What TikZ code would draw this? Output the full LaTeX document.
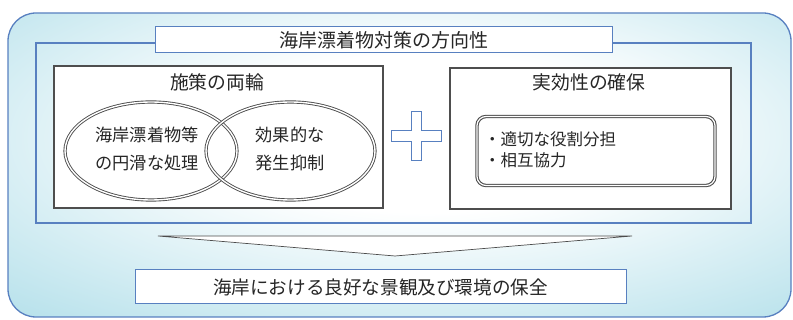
\documentclass[tikz,border=0pt]{standalone}
\usepackage{fontspec}
\setmainfont{Noto Sans CJK JP}
\usetikzlibrary{shapes.geometric}
\definecolor{bgcyan}{RGB}{168,219,231}
\definecolor{frameblue}{RGB}{88,128,192}
\definecolor{boxgray}{RGB}{78,78,78}
\pgfdeclareradialshading{bgshade}{\pgfpoint{2bp}{6bp}}{color(0bp)=(white); color(13bp)=(white); color(44bp)=(bgcyan); color(100bp)=(bgcyan)}
\tikzset{
  outerbox/.style={draw=frameblue, line width=1.3pt, rounded corners=28pt, shading=bgshade, inner sep=0pt},
  framebox/.style={draw=frameblue, line width=1.2pt, inner sep=0pt},
  bluebox/.style={draw=frameblue, line width=1pt, fill=white, inner sep=0pt, font=\fontsize{18.6}{20}\selectfont, text=black!85},
  graybox/.style={draw=boxgray, line width=1.2pt, fill=white, inner sep=0pt},
  headtext/.style={inner sep=0pt, font=\fontsize{18.8}{20}\selectfont, text=black!85},
  bodytext/.style={inner sep=0pt, font=\fontsize{17.2}{28}\selectfont, text=black!85, align=center},
  ring/.style={ellipse, draw=boxgray, double=white, double distance=1.4pt, line width=0.9pt, inner sep=0pt},
  dblbox/.style={draw=boxgray, double=white, double distance=1.2pt, line width=1.1pt, rounded corners=9pt, fill=white, inner sep=0pt},
  plusshape/.style={draw=frameblue, line width=0.9pt, fill=white},
  chevron/.style={draw=black!70, line width=0.7pt, fill=white, line join=miter}
}
\begin{document}
\begin{tikzpicture}[x=1pt, y=-1pt]
\useasboundingbox (0,0) rectangle (793,320);
% outer background
\node[outerbox, minimum width=783pt, minimum height=304pt] (outer) at (399.5,165) {};
% blue frame
\node[framebox, minimum width=715pt, minimum height=180pt] (frame) at (393.5,133) {};
% title
\node[bluebox, minimum width=457pt, minimum height=26pt, font=\fontsize{19}{20}\selectfont] (title) at (383.5,40) {海岸漂着物対策の方向性};
% left box
\node[graybox, minimum width=329pt, minimum height=142pt] (lbox) at (218.5,137) {};
\node[headtext] (lhead) at (217,82) {施策の両輪};
\node[ring, minimum width=172pt, minimum height=98pt] (lring) at (151,151) {};
\node[ring, minimum width=169pt, minimum height=98pt] (rring) at (290.5,151) {};
\node[bodytext] (ltext) at (147,149) {海岸漂着物等\\の円滑な処理};
\node[bodytext] (rtext) at (290,149) {効果的な\\発生抑制};
% right box
\node[graybox, minimum width=281pt, minimum height=141pt] (rbox) at (590.5,138.5) {};
\node[headtext] (rhead) at (589,82) {実効性の確保};
\node[dblbox, minimum width=238pt, minimum height=69pt] (ibox) at (596,151) {};
\node[bodytext, anchor=west, align=left, font=\fontsize{16.5}{21}\selectfont] (itext) at (484,149.5) {・適切な役割分担\\・相互協力};
% plus sign
\coordinate (plus) at (416,136);
\draw[plusshape] ([shift={(-25,-5.5)}]plus) -- ([shift={(-5,-5.5)}]plus) -- ([shift={(-5,-24.5)}]plus)
  -- ([shift={(5,-24.5)}]plus) -- ([shift={(5,-5.5)}]plus) -- ([shift={(25,-5.5)}]plus)
  -- ([shift={(25,5.5)}]plus) -- ([shift={(5,5.5)}]plus) -- ([shift={(5,24.5)}]plus)
  -- ([shift={(-5,24.5)}]plus) -- ([shift={(-5,5.5)}]plus) -- ([shift={(-25,5.5)}]plus) -- cycle;
% down chevron
\coordinate (chl) at (158,236);
\coordinate (chr) at (632,236);
\coordinate (chb) at (395,256);
\draw[chevron] (chl) -- (chr) -- (chb) -- cycle;
% bottom box
\node[bluebox, minimum width=491pt, minimum height=34pt] (goal) at (380.5,287) {海岸における良好な景観及び環境の保全};
\end{tikzpicture}
\end{document}
